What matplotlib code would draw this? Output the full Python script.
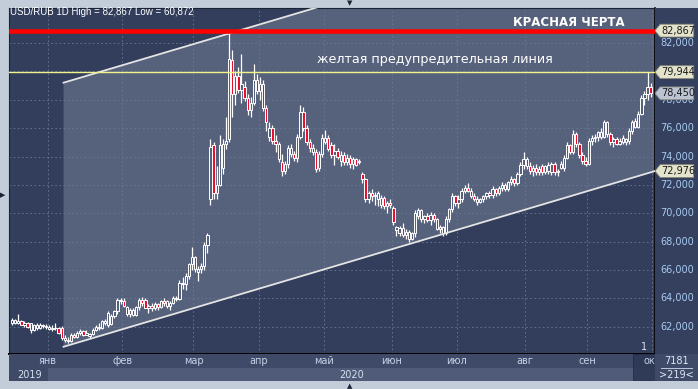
import matplotlib.pyplot as plt
from matplotlib.patches import Polygon, Rectangle
import numpy as np

W, H = 698, 389

# bars per month: Dec 2019, then Jan..Sep 2020
month_names = ['янв', 'фев', 'мар', 'апр', 'май', 'июн', 'июл', 'авг', 'сен', 'окт']
month_bars = [12, 24, 23, 21, 21, 22, 21, 22, 20, 21]

opens = [
    62.30, 62.45, 62.30, 62.40, 62.15, 62.30, 62.25, 61.75, 62.10, 61.95, 62.15, 62.05,
    62.00, 61.85, 61.95, 61.90, 61.95, 61.20, 61.10, 61.00, 61.45, 61.30, 61.55, 61.70,
    61.45, 61.35, 61.50, 61.80, 62.00, 61.90, 62.40, 62.10, 62.20, 62.80, 63.10, 63.90,
    63.80, 63.40, 62.90, 63.20, 62.85, 63.40, 63.90, 63.90, 63.35, 63.50, 63.30, 63.60,
    63.40, 63.80, 63.80, 63.45, 63.70, 64.05, 63.95, 65.10, 65.00, 65.60, 66.40,
    66.90, 65.90, 66.10, 66.30, 67.80, 71.00, 74.80, 71.40, 72.00, 73.20, 74.90, 75.20,
    80.80, 78.40, 79.70, 78.70, 78.90, 78.10, 77.30, 77.80, 79.40,
    78.60, 79.10, 77.40, 75.40, 76.00, 75.10, 74.90, 73.60, 73.00, 73.50, 74.60, 74.20,
    73.90, 75.40, 77.10, 76.00, 75.00, 74.60, 74.30, 73.20, 74.20,
    75.00, 75.30, 74.80, 74.10, 74.40, 73.70, 74.10, 73.60, 73.90, 73.50, 73.80, 73.60,
    72.80, 72.40, 71.00, 71.40, 71.20, 71.00, 70.60, 71.10, 70.50, 70.70,
    70.40, 68.80, 68.60, 68.95, 68.50, 68.70, 68.20, 68.60, 69.80, 70.20, 69.60, 69.80,
    69.50, 69.90, 69.60, 68.90, 69.00, 68.60, 69.60, 70.30, 71.20,
    70.70, 71.00, 71.60, 71.80, 71.60, 71.20, 71.00, 70.80, 71.00, 71.20, 71.40, 71.30,
    71.70, 71.40, 71.80, 72.00, 71.70, 72.20, 72.40, 72.10, 72.80, 73.40,
    73.80, 73.30, 73.00, 73.20, 72.90, 73.30, 72.90, 73.00, 72.90, 73.50, 72.90, 73.50,
    73.20, 73.90, 74.80, 74.30, 75.60, 74.90, 74.10, 73.70,
    73.50, 75.10, 75.30, 75.40, 75.70, 75.40, 76.40, 75.60, 75.00, 75.20, 74.90, 75.30,
    75.00, 75.10, 75.80, 76.50, 76.10, 77.00, 78.10, 78.40, 78.90,
]
highs = [
    62.60, 62.55, 62.90, 62.50, 62.40, 62.35, 62.30, 62.20, 62.30, 62.25, 62.20, 62.20,
    62.15, 62.10, 62.25, 62.00, 62.05, 61.40, 61.30, 61.55, 61.60, 61.70, 61.85, 61.75,
    61.80, 61.60, 61.90, 62.10, 62.30, 62.45, 62.55, 63.10, 62.90, 63.20, 64.00, 64.05,
    64.00, 63.50, 63.30, 63.35, 63.50, 64.00, 64.10, 64.05, 63.60, 63.70, 63.75, 63.70,
    63.90, 64.05, 63.90, 63.80, 64.15, 64.20, 65.30, 65.50, 65.80, 66.50, 67.60,
    67.00, 66.30, 66.50, 68.00, 68.60, 75.20, 75.00, 73.30, 75.50, 75.20, 76.80, 82.867,
    81.50, 80.00, 80.30, 81.20, 79.30, 78.40, 78.20, 80.50, 79.80,
    79.60, 79.40, 77.60, 76.40, 76.20, 75.50, 75.00, 74.20, 73.70, 74.80, 74.90, 74.40,
    75.60, 77.60, 77.50, 76.20, 75.20, 74.90, 74.50, 74.40, 75.60,
    75.90, 75.50, 75.00, 74.90, 74.60, 74.40, 74.30, 74.20, 74.10, 74.00, 73.90, 73.80,
    72.90, 72.50, 71.60, 71.70, 71.50, 71.60, 71.30, 71.20, 70.90, 71.00,
    70.50, 69.10, 69.10, 69.30, 68.90, 68.80, 68.70, 70.20, 70.40, 70.30, 69.90, 70.00,
    70.10, 70.00, 69.70, 69.20, 69.10, 69.80, 70.40, 71.40, 71.30,
    71.30, 71.80, 72.00, 72.10, 71.80, 71.40, 71.20, 71.10, 71.30, 71.50, 71.60, 71.90,
    71.80, 71.90, 72.20, 72.10, 72.30, 72.60, 72.50, 72.90, 73.60, 74.30,
    74.00, 73.60, 73.40, 73.50, 73.30, 73.50, 73.40, 73.60, 73.60, 73.60, 73.10, 73.70,
    74.10, 75.00, 74.90, 75.90, 75.70, 75.00, 74.30, 74.00,
    75.30, 75.50, 75.60, 75.80, 76.00, 76.60, 76.50, 75.70, 75.40, 75.40, 75.30, 75.50,
    75.30, 76.00, 76.60, 76.70, 77.20, 78.30, 78.60, 79.944, 79.20,
]
lows = [
    62.15, 62.20, 62.20, 62.10, 62.00, 61.90, 61.60, 61.70, 61.80, 61.85, 61.90, 61.85,
    61.75, 61.70, 61.80, 61.50, 61.10, 60.95, 60.872, 60.95, 61.20, 61.25, 61.40, 61.35,
    61.40, 61.20, 61.45, 61.70, 61.80, 61.85, 62.10, 62.00, 62.10, 62.60, 62.90, 63.60,
    63.40, 62.80, 62.70, 62.75, 62.80, 63.20, 63.50, 63.30, 63.00, 63.10, 63.20, 63.20,
    63.30, 63.50, 63.35, 63.20, 63.60, 63.80, 63.90, 64.70, 64.60, 65.40, 66.00,
    65.90, 65.20, 65.80, 66.00, 67.20, 70.60, 71.00, 71.00, 71.90, 72.80, 74.50, 75.00,
    76.80, 77.60, 78.50, 77.80, 77.90, 76.90, 76.80, 77.60, 78.40,
    78.00, 77.20, 75.80, 75.10, 74.90, 74.30, 73.60, 72.60, 72.80, 73.20, 74.00, 73.70,
    73.60, 75.20, 75.80, 74.80, 74.30, 74.10, 72.90, 73.00, 74.00,
    74.90, 74.40, 73.90, 73.40, 73.80, 73.30, 73.40, 73.40, 73.20, 73.10, 73.30, 73.50,
    72.10, 70.80, 70.70, 70.90, 70.60, 70.50, 70.40, 70.30, 70.00, 70.40,
    69.20, 68.40, 68.40, 68.30, 68.20, 68.00, 68.10, 68.30, 69.60, 69.40, 69.30, 69.40,
    69.20, 69.40, 68.80, 68.60, 68.40, 68.50, 69.40, 70.10, 70.50,
    70.40, 70.80, 71.40, 71.50, 71.10, 70.90, 70.60, 70.70, 70.80, 71.00, 71.10, 71.10,
    71.20, 71.30, 71.60, 71.60, 71.60, 72.00, 71.90, 72.00, 72.60, 73.10,
    73.10, 72.80, 72.60, 72.70, 72.70, 72.70, 72.80, 72.80, 72.70, 72.70, 72.60, 73.10,
    73.00, 73.80, 74.20, 74.20, 74.70, 73.90, 73.50, 73.30,
    73.40, 74.80, 75.00, 75.10, 75.20, 75.30, 75.40, 74.80, 74.70, 74.80, 74.80, 74.90,
    74.80, 74.90, 75.60, 76.00, 76.00, 76.90, 77.60, 78.00, 78.20,
]
closes = [
    62.45, 62.30, 62.40, 62.15, 62.30, 62.00, 61.75, 62.10, 61.95, 62.15, 62.05, 62.00,
    61.85, 61.95, 61.90, 61.60, 61.20, 61.10, 61.00, 61.45, 61.30, 61.55, 61.70, 61.45,
    61.60, 61.50, 61.80, 62.00, 61.90, 62.40, 62.25, 63.00, 62.80, 63.10, 63.90, 63.85,
    63.50, 62.90, 63.20, 62.85, 63.40, 63.90, 63.70, 63.35, 63.50, 63.30, 63.60, 63.40,
    63.80, 63.70, 63.45, 63.70, 64.05, 63.95, 65.10, 65.00, 65.60, 66.40, 66.90,
    66.05, 66.10, 66.30, 67.80, 68.50, 74.70, 71.40, 72.00, 74.80, 74.90, 75.10, 80.90,
    78.40, 79.70, 78.70, 79.10, 78.10, 77.30, 77.80, 79.40, 78.60,
    79.10, 77.40, 76.40, 76.00, 75.10, 74.90, 73.80, 73.00, 73.50, 74.60, 74.20, 73.90,
    75.40, 77.10, 76.00, 75.00, 74.60, 74.30, 73.10, 74.20, 75.30,
    75.30, 74.50, 74.10, 74.40, 74.00, 74.10, 73.60, 73.90, 73.50, 73.80, 73.40, 73.70,
    72.40, 71.00, 71.40, 71.20, 71.30, 71.40, 71.10, 70.50, 70.70, 70.60,
    69.40, 69.00, 68.95, 68.50, 68.70, 68.20, 68.60, 70.00, 70.20, 69.60, 69.80, 69.50,
    69.90, 69.60, 68.90, 69.00, 68.60, 69.60, 70.30, 71.20, 70.70,
    71.00, 71.60, 71.80, 71.60, 71.20, 71.00, 70.80, 71.00, 71.20, 71.40, 71.30, 71.70,
    71.40, 71.80, 72.00, 71.70, 72.20, 72.40, 72.10, 72.80, 73.40, 73.80,
    73.30, 73.00, 73.20, 72.90, 73.10, 72.90, 73.30, 73.40, 73.50, 72.90, 73.00, 73.20,
    73.90, 74.80, 74.30, 75.60, 74.90, 74.10, 73.70, 73.50,
    75.10, 75.30, 75.40, 75.70, 75.40, 76.40, 75.60, 75.00, 75.20, 74.90, 75.10, 75.00,
    75.20, 75.80, 76.40, 76.10, 77.00, 78.10, 78.40, 78.90, 78.45,
]

price_ticks = [62, 64, 66, 68, 70, 72, 74, 76, 78, 80, 82]
red_level = 82.867
yellow_level = 79.944
last_price = 78.450
# trend channel drawn by hand on the chart
trend_start_bar = 16.6
trend_low_start = 60.6
trend_low_end = 72.976
channel_height = 18.6

XMIN, XMAX = -1.0, 207.4
YMIN, YMAX = 60.09, 84.46
DARK = '#323e5b'
LIGHT = '#56617c'


def rect(x0, y0, x1, y1):
    return [x0 / W, 1 - y1 / H, (x1 - x0) / W, (y1 - y0) / H]


fig = plt.figure(figsize=(W / 100, H / 100), dpi=100)
fig.patch.set_facecolor('#c3cdda')

ax = fig.add_axes(rect(9, 8, 655, 354))
ax.set_facecolor(DARK)
ax.set_xlim(XMIN, XMAX)
ax.set_ylim(YMIN, YMAX)
ax.set_xticks([])
ax.set_yticks([])
for s in ax.spines.values():
    s.set_color('#1a2236')
    s.set_linewidth(0.8)
ax.spines['bottom'].set_color('black')
ax.spines['bottom'].set_linewidth(1.4)
ax.spines['right'].set_color('black')
ax.spines['right'].set_linewidth(1.2)

# channel
x0, x1 = trend_start_bar, XMAX
chan = Polygon([(x0, trend_low_start), (x1, trend_low_end),
                (x1, trend_low_end + channel_height), (x0, trend_low_start + channel_height)],
               closed=True, facecolor=LIGHT, edgecolor='none', zorder=0)
ax.add_patch(chan)
ax.plot([x0, x1], [trend_low_start, trend_low_end], color='#e4e4e4', lw=1.3, zorder=4)
ax.plot([x0, x1], [trend_low_start + channel_height, trend_low_end + channel_height],
        color='#e4e4e4', lw=1.3, zorder=4)

# grid
bounds = np.cumsum(month_bars) - 0.5
for p in price_ticks:
    ax.axhline(p, color='#6b7894', lw=0.6, ls=(0, (2, 3)), zorder=1)
for b in bounds:
    ax.axvline(b, color='#6b7894', lw=0.6, ls=(0, (2, 3)), zorder=1)

# candles
o = np.array(opens)
h = np.array(highs)
l = np.array(lows)
c = np.array(closes)
x = np.arange(len(c))
top = np.maximum(o, c)
bot = np.minimum(o, c)
ax.vlines(x, top, h, color='white', lw=0.9, zorder=2)
ax.vlines(x, l, bot, color='white', lw=0.9, zorder=2)
face = ['#e8102e' if cc < oo else 'none' for oo, cc in zip(o, c)]
ax.bar(x, np.maximum(top - bot, 0.03), bottom=bot, width=0.75, color=face,
       edgecolor='white', linewidth=0.7, zorder=3)

ax.axhline(red_level, color='#ff0000', lw=3.3, zorder=5)
ax.axhline(yellow_level, color='#f2f28a', lw=1.0, zorder=5)

ax.text(205.0, 60.2, '1', color='#e0e6f0', fontsize=7, ha='right', va='bottom', zorder=6)

fig.text(10 / W, 1 - 12 / H, 'USD/RUB 1D High = 82,867 Low = 60,872', color='white',
         fontsize=7, family='Liberation Sans', va='center', ha='left')
fig.text(569 / W, 1 - 22 / H, 'КРАСНАЯ ЧЕРТА', color='white', fontsize=8.5,
         fontweight='bold', va='center', ha='center')
fig.text(435 / W, 1 - 60 / H, 'желтая предупредительная линия', color='white', fontsize=9.2,
         va='center', ha='center')

# price panel
axr = fig.add_axes(rect(655, 8, 698, 354))
axr.set_facecolor('#34405d')
axr.set_xlim(0, 1)
axr.set_ylim(YMIN, YMAX)
axr.set_xticks([])
axr.set_yticks([])
for s in axr.spines.values():
    s.set_visible(False)
for p in price_ticks:
    axr.text(0.12, p, f'{p},000', color='#a9caf2', fontsize=7, va='center', ha='left')

tags = [(red_level, '#e4e4cc'), (yellow_level, '#e4e4cc'),
        (last_price, '#bcc4d4'), (trend_low_end, '#e4e4cc')]
for val, col in tags:
    hh = 0.45
    axr.add_patch(Polygon([(0.0, val), (0.12, val + hh), (0.9, val + hh),
                           (0.9, val - hh), (0.12, val - hh)], closed=True,
                          facecolor=col, edgecolor='#8a8a7a', lw=0.6, zorder=3))
    axr.text(0.15, val, f'{val:.3f}'.replace('.', ','), color='#1a1a1a', fontsize=7,
             va='center', ha='left', zorder=4)

# date strip
axd = fig.add_axes(rect(9, 354, 655, 381))
axd.set_facecolor('#3e4a67')
axd.set_xlim(XMIN, XMAX)
axd.set_ylim(0, 1)
axd.set_xticks([])
axd.set_yticks([])
for s in axd.spines.values():
    s.set_visible(False)
axd.add_patch(Rectangle((bounds[0], 0), XMAX - bounds[0], 0.47, facecolor='#4f5b78',
                        edgecolor='none'))
for name, b in zip(month_names, bounds):
    axd.text(b, 0.74, name, color='#c6d2e6', fontsize=7, ha='center', va='center')
axd.text((30 - 9) / 646, 0.24, '2019', color='#d6dfee', fontsize=7, ha='center',
         va='center', transform=axd.transAxes)
axd.text((352 - 9) / 646, 0.24, '2020', color='#d6dfee', fontsize=7, ha='center',
         va='center', transform=axd.transAxes)
axd.add_patch(Rectangle(((633 - 9) / 646, 0), (655 - 633) / 646, 1, facecolor='#2b3652',
                        alpha=0.85, edgecolor='#1e2740', lw=0.6, transform=axd.transAxes))

axb = fig.add_axes(rect(655, 354, 698, 381))
axb.set_facecolor('#3e4a67')
axb.set_xticks([])
axb.set_yticks([])
for s in axb.spines.values():
    s.set_visible(False)
axb.text(0.5, 0.75, '7181', color='#dfe6f2', fontsize=7, ha='center', va='center')
axb.plot([0.15, 0.85], [0.5, 0.5], color='#c0c8d8', lw=0.7)
axb.text(0.5, 0.22, '>219<', color='#dfe6f2', fontsize=7, ha='center', va='center')
axb.set_xlim(0, 1)
axb.set_ylim(0, 1)

fig.text(350 / W, 1 - 3 / H, '▼', color='#1a2236', fontsize=5, ha='center', va='center')
fig.text(3 / W, 1 - 195 / H, '▶', color='#1a2236', fontsize=5, ha='center', va='center')
fig.text(350 / W, 1 - 386 / H, '▲', color='#1a2236', fontsize=5, ha='center', va='center')

fig.savefig('out.png', dpi=100, facecolor=fig.get_facecolor())
